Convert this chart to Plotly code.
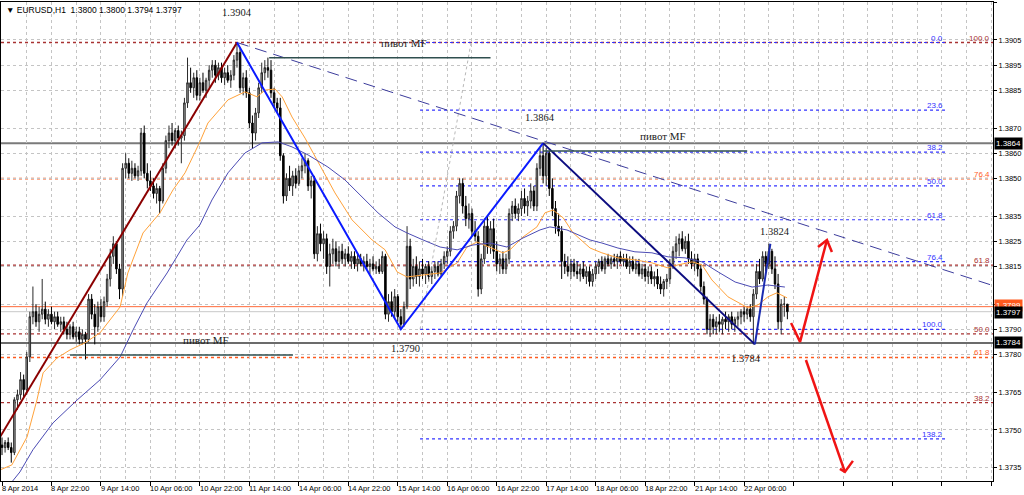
import plotly.graph_objects as go

BASE = 1.3700   # prices below are stored in pips above this base
PIP = 0.0001

# ---------------- candle data (H1, bar index 0 = 8 Apr 2014 00:00) ----------------
opens = [44,43,45,43,41,62,64,70,66,79,95,97,93,96,98,94,96,93,95,92,93,90,88,91,87,89,86,88,86,102,
         96,91,99,95,101,110,119,124,114,106,154,156,152,154,151,153,168,152,149,147,144,146,141,154,165,168,165,169,166,167,
         180,188,186,190,183,188,185,189,193,195,191,194,190,192,189,191,197,200,186,190,184,172,168,176,186,192,194,193,184,180,
         178,159,143,150,147,151,148,153,155,157,147,149,120,128,124,126,115,120,122,117,121,118,120,117,119,116,118,116,117,115,
         116,114,115,113,119,96,101,97,103,95,92,99,123,110,115,111,114,112,115,111,113,115,112,116,119,121,129,131,143,148,
         139,134,136,129,127,106,118,131,123,130,121,116,118,114,118,136,139,136,138,142,139,141,145,139,154,159,151,160,146,138,
         131,129,117,115,113,116,113,112,114,111,113,109,112,115,117,114,118,116,118,117,119,117,118,115,117,114,116,112,114,111,
         113,110,111,108,106,109,110,116,121,124,126,122,125,118,116,118,114,107,102,90,94,91,93,92,94,93,95,92,94,95,
         97,96,98,95,104,113,110,119,116,121,114,108,93,100,100]
highs = [47,46,47,45,63,66,73,72,81,97,107,100,99,110,101,98,99,97,97,95,95,93,92,93,91,91,90,89,104,104,
         100,101,102,103,112,122,127,125,116,156,160,158,157,156,155,170,171,156,153,150,148,147,156,167,171,172,170,171,169,182,
         198,194,192,193,190,192,190,195,197,197,196,196,194,195,193,199,204,202,192,193,186,175,178,188,196,197,198,197,186,182,
         182,160,152,155,153,154,155,158,160,158,151,151,131,132,129,128,124,126,125,123,124,122,123,121,121,120,120,119,120,118,
         119,117,118,121,120,104,105,106,104,98,101,131,126,118,119,117,118,116,117,115,117,117,118,121,123,131,133,145,150,150,
         143,140,138,133,129,120,134,135,133,134,125,120,121,120,138,141,142,140,145,146,143,148,147,156,162,164,162,161,150,141,
         136,131,120,119,118,118,117,116,117,115,115,114,117,118,119,119,120,119,120,120,121,120,120,119,119,118,118,116,116,115,
         115,113,114,111,110,112,118,123,127,128,129,127,128,121,120,120,116,109,103,96,96,95,96,95,97,96,97,95,97,98,
         99,99,100,106,116,118,121,121,124,122,119,112,102,103,100]
lows = [40,41,42,37,40,58,62,63,64,77,92,91,89,94,92,91,92,90,91,89,88,86,86,86,85,84,84,78,85,94,
        84,89,93,93,99,107,116,112,102,103,150,150,149,150,149,151,150,146,145,142,140,136,140,152,162,163,162,163,156,165,
        178,184,182,181,181,184,182,186,190,188,189,188,187,188,186,189,194,184,183,182,170,162,165,174,184,189,190,182,178,176,
        157,140,141,145,143,146,147,150,152,145,142,118,117,121,118,112,107,116,115,114,116,115,116,114,114,113,115,113,114,112,
        113,112,112,112,94,93,95,94,93,90,91,98,106,107,108,107,110,108,109,108,110,111,111,114,116,119,126,129,140,136,
        131,130,127,125,103,104,116,120,120,118,113,112,112,112,116,133,134,133,135,136,135,138,137,137,151,148,147,143,135,128,
        127,110,112,111,110,111,110,109,110,108,107,107,110,112,113,112,115,114,115,114,116,115,114,112,113,112,111,110,109,108,
        108,107,106,104,103,106,108,114,118,119,121,120,116,114,113,111,105,100,88,87,88,88,89,88,90,89,90,89,91,92,
        93,94,93,84,102,108,109,113,114,112,106,90,88,95,94]
closes = [43,45,43,41,62,64,70,66,79,95,97,93,96,98,94,96,93,95,92,93,90,88,91,87,89,86,88,86,102,96,
          91,99,95,101,110,119,124,114,106,154,156,152,154,151,153,168,152,149,147,144,146,141,154,165,168,165,169,166,167,180,
          188,186,190,183,188,185,189,193,195,191,194,190,192,189,191,197,200,186,190,184,172,168,176,186,192,194,193,184,180,178,
          159,143,150,147,151,148,153,155,157,147,149,120,128,124,126,115,120,122,117,121,118,120,117,119,116,118,116,117,115,116,
          114,115,113,119,96,101,97,103,95,92,99,123,110,115,111,114,112,115,111,113,115,112,116,119,121,129,131,143,148,139,
          134,136,129,127,106,118,131,123,130,121,116,118,114,118,136,139,136,138,142,139,141,145,139,154,159,151,160,146,138,131,
          129,117,115,113,116,113,112,114,111,113,109,112,115,117,114,118,116,118,117,119,117,118,115,117,114,116,112,114,111,113,
          110,111,108,106,109,110,116,121,124,126,122,125,118,116,118,114,107,102,90,94,91,93,92,94,93,95,92,94,95,97,
          96,98,95,104,113,110,119,116,121,114,108,93,100,100,97]

# ---------------- moving averages (bar, pips) ----------------
ma_fast_x = [-0.65,3.2,8.1,11.3,13.3,17.8,22.0,26.8,31.7,34.9,38.2,40.7,45.6,51.1,55.3,59.2,64.0,66.6,73.1,78.6,
             82.5,85.1,88.3,90.6,93.8,98.0,102.2,107.7,113.2,119.7,123.9,127.1,127.8,131.0,136.2,141.7,147.2,150.4,153.6,157.8,
             162.0,164.3,168.5,173.0,175.6,178.2,181.5,184.7,190.2,194.0,199.2,204.7,210.2,215.4,218.6,223.2,226.4,229.6,234.8,241.3,
             244.5,247.7,250.6,253.9]
ma_fast_v = [34.1,36.1,47.2,61.9,72.7,78.6,81.8,84.6,88.6,93.7,98.9,112.4,128.3,136.3,145.4,152.2,164.5,172.0,181.2,184.4,
             182.4,185.1,185.5,182.4,174.4,166.0,156.5,144.2,133.5,125.5,121.6,114.8,112.8,110.8,111.6,112.4,116.4,122.7,124.7,122.7,
             120.4,121.6,126.7,130.7,136.3,137.4,134.3,128.3,122.3,120.4,118.4,117.6,116.4,114.4,115.6,116.8,115.6,109.6,102.9,98.5,
             99.7,102.9,104.5,102.5]
ma_slow_x = [2.0,5.8,10.0,16.5,24.3,31.7,38.2,42.4,46.9,53.4,59.8,64.0,67.9,73.1,78.6,84.1,89.3,93.8,99.0,105.4,
             110.9,116.4,121.6,127.1,131.0,136.2,141.7,147.2,152.3,157.8,163.3,168.5,174.0,177.2,182.7,190.2,194.0,199.2,204.7,210.2,
             215.4,220.9,226.4,231.6,237.1,242.6,247.7,253.2]
ma_slow_v = [27.5,33.3,42.1,52.8,61.9,69.9,79.0,89.8,100.5,112.4,125.5,131.5,141.4,152.2,160.1,164.1,164.5,162.5,159.3,154.5,
             149.4,142.6,136.3,130.7,128.3,125.5,122.7,121.6,123.5,124.3,122.7,126.3,129.5,130.7,129.5,125.5,124.3,122.3,120.8,120.4,
             118.8,118.4,116.8,112.8,108.8,106.8,107.6,106.8]

# ---------------- zigzag swing points ----------------
trend_x = [-2.0, 76.0]                 # maroon up-leg
trend_p = [1.37444, 1.3904]
zz1_x = [76, 129, 175]                 # bright blue legs
zz1_p = [1.3904, 1.3790, 1.3864]
zz2_x = [175, 243.5]                   # navy leg
zz2_p = [1.3864, 1.3784]
zz3_x = [243.5, 248.5]
zz3_p = [1.3784, 1.3824]
tl_x = [76, 325]                       # dashed resistance line
tl_p = [1.3904, 1.38056]
swing_labels = ["1.3904", "1.3864", "1.3790", "1.3784", "1.3824"]

# ---------------- Fibonacci levels ----------------
fib_blue_hi, fib_blue_lo = 1.3904, 1.3790
fib_blue_ratios = [0.0, 23.6, 38.2, 50.0, 61.8, 76.4, 100.0, 138.2]
fib_blue_span = [135.2, 305.0]
fib_red_hi, fib_red_lo = 1.3904, 1.36724
fib_red_ratios = [100.0, 61.8, 50.0, 38.2]
fib_or_prices = [1.38499, 1.37788]
fib_or_labels = ["76.4", "61.8"]
fib_diag_x = [135.2, 151.7]
fib_diag_p = [1.3790, 1.3904]

# ---------------- horizontal levels ----------------
lvl_1864 = 1.3864
lvl_1784 = 1.37846
ask_price = 1.3799
bid_price = 1.3797
pivots = [  # (x0, x1, price)
    (86.4, 158.0, 1.38979),
    (175.0, 241.0, 1.38609),
    (22.0, 94.1, 1.37798),
]
pivot_text_x = [130, 213.8, 66]

# ---------------- red forecast arrows ----------------
arrow1_x = [255.2, 258.1, 266.8]
arrow1_p = [1.37925, 1.3785, 1.38255]
head1_x = [263.9, 266.8, 268.4]
head1_p = [1.38227, 1.38255, 1.38207]
arrow2_x = [260.0, 272.6]
arrow2_p = [1.37778, 1.37333]
head2_x = [271.0, 272.6, 275.2]
head2_p = [1.37345, 1.37333, 1.37377]

# ---------------- axes ----------------
ytick_vals = [1.3920,1.3905,1.3895,1.3885,1.3870,1.3860,1.3850,1.3835,1.3825,1.3815,
              1.3800,1.3790,1.3780,1.3765,1.3750,1.3735]
xtick_bars = [0,16,32,48,64,80,96,112,128,144,160,176,192,208,224,240]
xtick_labels = ["8 Apr 2014","8 Apr 22:00","9 Apr 14:00","10 Apr 06:00","10 Apr 22:00","11 Apr 14:00",
                "14 Apr 06:00","14 Apr 22:00","15 Apr 14:00","16 Apr 06:00","16 Apr 22:00","17 Apr 14:00",
                "18 Apr 06:00","18 Apr 22:00","21 Apr 14:00","22 Apr 06:00"]
header_text = "EURUSD,H1  1.3800 1.3800 1.3794 1.3797"

X_RANGE = [-0.323, 320.5]
Y_RANGE = [1.37297, 1.39201]

def P(v):
    return [round(BASE + a * PIP, 5) for a in v]

bars = list(range(len(opens)))
fig = go.Figure()

fig.add_trace(go.Candlestick(
    x=bars, open=P(opens), high=P(highs), low=P(lows), close=P(closes),
    increasing=dict(line=dict(color="#2a2a2a", width=1), fillcolor="#a8a8a8"),
    decreasing=dict(line=dict(color="#000000", width=1), fillcolor="#000000"),
    whiskerwidth=0, hoverinfo="skip"))

fig.add_trace(go.Scatter(x=ma_fast_x, y=P(ma_fast_v), mode="lines",
                         line=dict(color="#ffa23a", width=1), hoverinfo="skip"))
fig.add_trace(go.Scatter(x=ma_slow_x, y=P(ma_slow_v), mode="lines",
                         line=dict(color="#4b4bb4", width=1), hoverinfo="skip"))

# fib diagonal
fig.add_trace(go.Scatter(x=fib_diag_x, y=fib_diag_p, mode="lines",
                         line=dict(color="#b8b8b8", width=1, dash="dot"), hoverinfo="skip"))
# trendline
fig.add_trace(go.Scatter(x=tl_x, y=tl_p, mode="lines",
                         line=dict(color="#3c3c9c", width=1, dash="12px,7px"), hoverinfo="skip"))
# zigzag
fig.add_trace(go.Scatter(x=trend_x, y=trend_p, mode="lines",
                         line=dict(color="#8b0000", width=2), hoverinfo="skip"))
fig.add_trace(go.Scatter(x=zz1_x, y=zz1_p, mode="lines",
                         line=dict(color="#0a1aff", width=2), hoverinfo="skip"))
fig.add_trace(go.Scatter(x=zz2_x, y=zz2_p, mode="lines",
                         line=dict(color="#0c0c80", width=2), hoverinfo="skip"))
fig.add_trace(go.Scatter(x=zz3_x, y=zz3_p, mode="lines",
                         line=dict(color="#1a2ab0", width=2), hoverinfo="skip"))
# red arrows
for ax_, ap_ in [(arrow1_x, arrow1_p), (head1_x, head1_p), (arrow2_x, arrow2_p), (head2_x, head2_p)]:
    fig.add_trace(go.Scatter(x=ax_, y=ap_, mode="lines",
                             line=dict(color="#f01414", width=2.5), hoverinfo="skip"))

shapes = []
def hline(price, color, width, dash="solid", x0=None, x1=None, layer="between"):
    if x0 is None:
        shapes.append(dict(type="line", xref="paper", x0=0, x1=1, yref="y", y0=price, y1=price,
                           line=dict(color=color, width=width, dash=dash), layer=layer))
    else:
        shapes.append(dict(type="line", xref="x", x0=x0, x1=x1, yref="y", y0=price, y1=price,
                           line=dict(color=color, width=width, dash=dash), layer=layer))

ann = []
# red (maroon) fib
for r in fib_red_ratios:
    pr = fib_red_lo + (fib_red_hi - fib_red_lo) * r / 100.0
    hline(pr, "#a83232", 1.3, "dot")
    ann.append(dict(x=320.2, y=pr, xref="x", yref="y", text=f"{r:.1f}", showarrow=False,
                    xanchor="right", yanchor="bottom", yshift=-2,
                    font=dict(family="Liberation Sans", size=8, color="#a83232")))
# orange fib
for pr, lb in zip(fib_or_prices, fib_or_labels):
    hline(pr, "#ff5a1e", 1.6, "dot")
    ann.append(dict(x=320.2, y=pr, xref="x", yref="y", text=lb, showarrow=False,
                    xanchor="right", yanchor="bottom", yshift=-2,
                    font=dict(family="Liberation Sans", size=8, color="#ff5a1e")))
# blue fib
for r in fib_blue_ratios:
    pr = fib_blue_hi - (fib_blue_hi - fib_blue_lo) * r / 100.0
    hline(pr, "#3232ff", 1.2, "dot", fib_blue_span[0], fib_blue_span[1])
    ann.append(dict(x=fib_blue_span[1], y=pr, xref="x", yref="y", text=f"{r:.1f}", showarrow=False,
                    xanchor="right", yanchor="bottom", yshift=-2,
                    font=dict(family="Liberation Sans", size=8, color="#3232ff")))

hline(lvl_1864, "#7a7a7a", 2)
hline(lvl_1784, "#3a3a3a", 1.5)
hline(ask_price, "#ff6a3a", 1)
hline(bid_price, "#c8c8c8", 1)
for (a, b, pr) in pivots:
    hline(pr, "#2f4f4f", 1.5, "solid", a, b, layer="above")

# pivot texts
for (a, b, pr), tx in zip(pivots, pivot_text_x):
    ann.append(dict(x=tx, y=pr, xref="x", yref="y", text="пивот MF", showarrow=False,
                    yshift=15, font=dict(family="Liberation Serif", size=11, color="#1a1a1a")))

# swing labels
sw_pts = [(76, 1.3904, 0, 30), (174, 1.3864, 0, 26), (130.5, 1.3790, 0, -19),
          (240.5, 1.3784, 0, -14), (250, 1.3824, 0, 12)]
for (bx, pr, xs, ys), lb in zip(sw_pts, swing_labels):
    ann.append(dict(x=bx, y=pr, xref="x", yref="y", text=lb, showarrow=False,
                    xshift=xs, yshift=ys,
                    font=dict(family="Liberation Serif", size=10.5, color="#1a1a1a")))

# x tick labels (left aligned at tick, MT4 style)
for bx, lb in zip(xtick_bars, xtick_labels):
    ann.append(dict(x=bx, y=0, xref="x", yref="paper", text=lb, showarrow=False,
                    xanchor="left", yanchor="top", xshift=-2, yshift=-1,
                    font=dict(family="Liberation Sans", size=7.5, color="#000000")))

# price boxes on right axis
def price_box(price, text, bg):
    ann.append(dict(x=1, y=price, xref="paper", yref="y", text=text, showarrow=False,
                    xanchor="left", yanchor="middle", xshift=1, bgcolor=bg, borderpad=1,
                    font=dict(family="Liberation Sans", size=8, color="#ffffff")))
price_box(lvl_1864, "1.3864", "#000000")
price_box(ask_price + 0.00005, "1.3799", "#ff5a1e")
price_box(bid_price - 0.00005, "1.3797", "#000000")
price_box(lvl_1784, "1.3784", "#000000")

# header
ann.append(dict(x=0, y=1, xref="paper", yref="paper", text="▼ " + header_text, showarrow=False,
                xanchor="left", yanchor="top", xshift=3, yshift=-1,
                font=dict(family="Liberation Sans", size=8.5, color="#000000")))

fig.update_layout(
    width=1024, height=495, margin=dict(l=1, r=31, t=2, b=14),
    paper_bgcolor="white", plot_bgcolor="white", showlegend=False,
    shapes=shapes, annotations=ann,
    xaxis=dict(range=X_RANGE, tickmode="linear", tick0=0, dtick=16, showticklabels=False,
               ticks="outside", ticklen=4, tickcolor="#000000",
               showgrid=True, gridcolor="#c4c4c4", griddash="3px,3px", gridwidth=1,
               minor=dict(dtick=8, tick0=0, showgrid=True, gridcolor="#c4c4c4", griddash="3px,3px"),
               showline=True, linecolor="#000000", linewidth=1, mirror=True, zeroline=False,
               rangeslider=dict(visible=False), fixedrange=True),
    yaxis=dict(range=Y_RANGE, side="right", tickmode="array", tickvals=ytick_vals,
               ticktext=[f"{v:.4f}" for v in ytick_vals], ticks="outside", ticklen=3,
               tickcolor="#000000", tickfont=dict(family="Liberation Sans", size=7.5, color="#000000"),
               showgrid=True, gridcolor="#c4c4c4", griddash="3px,3px", gridwidth=1,
               showline=True, linecolor="#000000", linewidth=1, mirror=True, zeroline=False,
               fixedrange=True),
)

fig.write_html("out.html", config={"displayModeBar": False},
               post_script="document.body.style.margin='0px';")
